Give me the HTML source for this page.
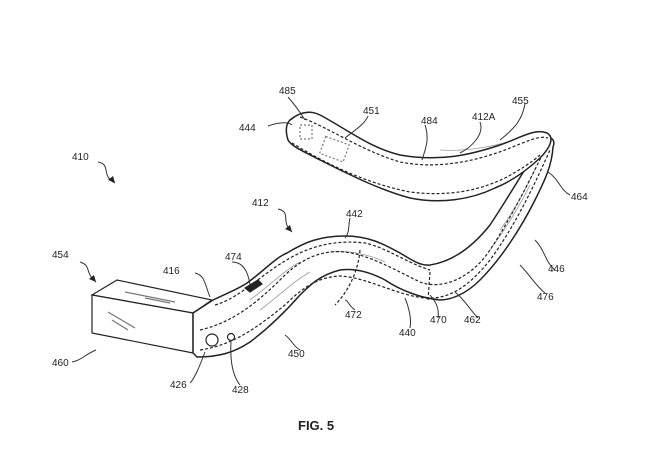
<!DOCTYPE html>
<html><head><style>
html,body{margin:0;padding:0;background:#fff}
svg{display:block}
text{font-family:"Liberation Sans",sans-serif;font-size:10px;fill:#222}
</style></head><body>
<svg width="660" height="468" viewBox="0 0 660 468" xmlns="http://www.w3.org/2000/svg">
<g fill="none" stroke="#222" stroke-width="1.2">
<!-- box -->
<path d="M92,295 L117,280 L212,300 L193,313 Z" fill="#fff"/>
<path d="M92,295 L193,313 L193,353 L92,333 Z" fill="#fff"/>
<path d="M125,292 L175,302 M145,298 L170,303" stroke="#777"/>
<path d="M108,312 L135,328 M112,320 L128,330" stroke="#777"/>
<!-- lower arm band -->
<path d="M213,300 C230,292 240,288 247,283 C265,270 275,258 287,253 C305,242 320,236 345,236 C370,236 385,245 400,253 C412,260 420,266 430,265 C450,262 470,250 490,225 C510,195 530,160 545,138 C550,135 556,140 553,147 C552,165 545,180 535,200 C520,230 500,260 480,280 C465,295 450,300 440,300 C420,298 400,290 385,280 C370,272 355,268 340,270 C320,275 310,285 300,295 C285,312 270,327 250,342 C235,352 220,357 197,357 L193,353 L193,313 Z" fill="#fff" stroke-width="1.5"/>
<g stroke="#999" stroke-width="0.8">
<path d="M250,300 C270,285 285,270 300,262"/>
<path d="M260,310 C280,295 295,280 310,272"/>
<path d="M330,252 C350,250 370,255 385,262"/>
<path d="M500,230 C515,210 525,190 535,170"/>
<path d="M490,250 C505,230 520,205 530,185"/>
<path d="M440,150 C470,152 500,145 520,138"/>
<path d="M360,160 C380,170 400,175 420,178"/>
</g>
<path d="M200,330 C235,322 260,300 285,275 C305,256 325,250 345,252 C370,255 395,270 420,282 C440,290 470,280 490,250 C510,220 530,180 548,143" stroke-dasharray="3,2"/>
<path d="M200,350 C235,345 260,325 285,305 C305,285 320,277 340,276 C370,278 395,295 425,298 C450,300 470,285 490,260 C512,230 530,195 550,150" stroke-dasharray="3,2"/>
<path d="M215,305 C240,298 260,275 290,258 C315,244 340,240 365,243 C385,247 405,262 430,270" stroke-dasharray="3,2"/>
<!-- upper arm -->
<path d="M290,120 C300,112 310,110 320,115 C345,128 370,148 400,155 C440,162 470,155 500,145 C520,138 535,128 547,133 C556,138 548,150 540,158 C525,172 510,182 495,188 C470,200 440,204 410,198 C380,190 350,175 320,160 C305,152 292,147 288,140 C285,130 286,124 290,120 Z" fill="#fff" stroke-width="1.5"/>
<path d="M300,117 C330,128 360,150 400,162 C440,170 480,160 510,148 C525,142 540,135 548,138" stroke-dasharray="3,2"/>
<path d="M292,143 C320,160 360,182 410,192 C450,197 480,190 505,178 C520,170 532,162 540,155" stroke-dasharray="3,2"/>
<rect x="322" y="140" width="25" height="18" stroke-dasharray="2,2" stroke="#777" transform="rotate(20 334 149)"/>
<rect x="300" y="125" width="12" height="14" stroke-dasharray="2,2" stroke="#777"/>
<!-- button 474 -->
<path d="M245,288 L258,280 L262,284 L250,292 Z" fill="#222"/>
<!-- dashed 472 -->
<path d="M360,250 C358,275 345,295 335,305" stroke-dasharray="3,2"/>
<path d="M430,272 L428,300" stroke-dasharray="3,2"/>
<!-- circles -->
<circle cx="212" cy="340" r="6"/>
<circle cx="231" cy="337" r="3.5"/>
</g>
<g fill="none" stroke="#333" stroke-width="1">
<path d="M98,162 C112,165 100,175 115,183"/>
<path d="M278,209 C292,212 280,222 292,232"/>
<path d="M80,262 C92,266 84,272 96,282"/>
<path d="M268,126 C280,122 288,122 292,125"/>
<path d="M288,97 C295,105 300,112 305,120"/>
<path d="M368,116 C365,124 355,130 345,138"/>
<path d="M425,125 C430,140 425,150 422,160"/>
<path d="M480,122 C485,135 470,148 460,153"/>
<path d="M525,104 C522,120 515,128 500,140"/>
<path d="M570,195 C560,190 560,180 548,172"/>
<path d="M350,218 C348,226 350,232 345,238"/>
<path d="M232,262 C242,262 248,270 250,285"/>
<path d="M195,273 C205,275 205,285 210,297"/>
<path d="M555,270 C545,262 545,250 535,240"/>
<path d="M545,293 C535,285 530,275 520,265"/>
<path d="M355,310 C348,305 348,300 345,300"/>
<path d="M438,318 C440,305 432,298 430,295"/>
<path d="M478,318 C470,310 465,300 455,292"/>
<path d="M410,328 C412,318 408,305 405,298"/>
<path d="M300,350 C292,345 292,340 285,335"/>
<path d="M72,362 C82,360 84,355 96,350"/>
<path d="M190,383 C195,378 200,365 205,352"/>
<path d="M240,385 C232,375 230,360 231,342"/>
</g>
<g fill="#222">
<path d="M115,183 L108,180 L113,176 Z"/>
<path d="M292,232 L285,229 L290,225 Z"/>
<path d="M96,282 L89,279 L94,275 Z"/>
</g>
<text x="279" y="94">485</text>
<text x="363" y="114">451</text>
<text x="239" y="131">444</text>
<text x="421" y="124">484</text>
<text x="472" y="120">412A</text>
<text x="512" y="104">455</text>
<text x="72" y="160">410</text>
<text x="571" y="200">464</text>
<text x="252" y="206">412</text>
<text x="346" y="217">442</text>
<text x="225" y="260">474</text>
<text x="163" y="274">416</text>
<text x="52" y="258">454</text>
<text x="548" y="272">446</text>
<text x="537" y="300">476</text>
<text x="345" y="318">472</text>
<text x="430" y="323">470</text>
<text x="464" y="323">462</text>
<text x="399" y="336">440</text>
<text x="288" y="357">450</text>
<text x="52" y="366">460</text>
<text x="170" y="388">426</text>
<text x="232" y="393">428</text>
<text x="298" y="430" style="font-size:13px;font-weight:bold">FIG. 5</text>
</svg>
</body></html>
